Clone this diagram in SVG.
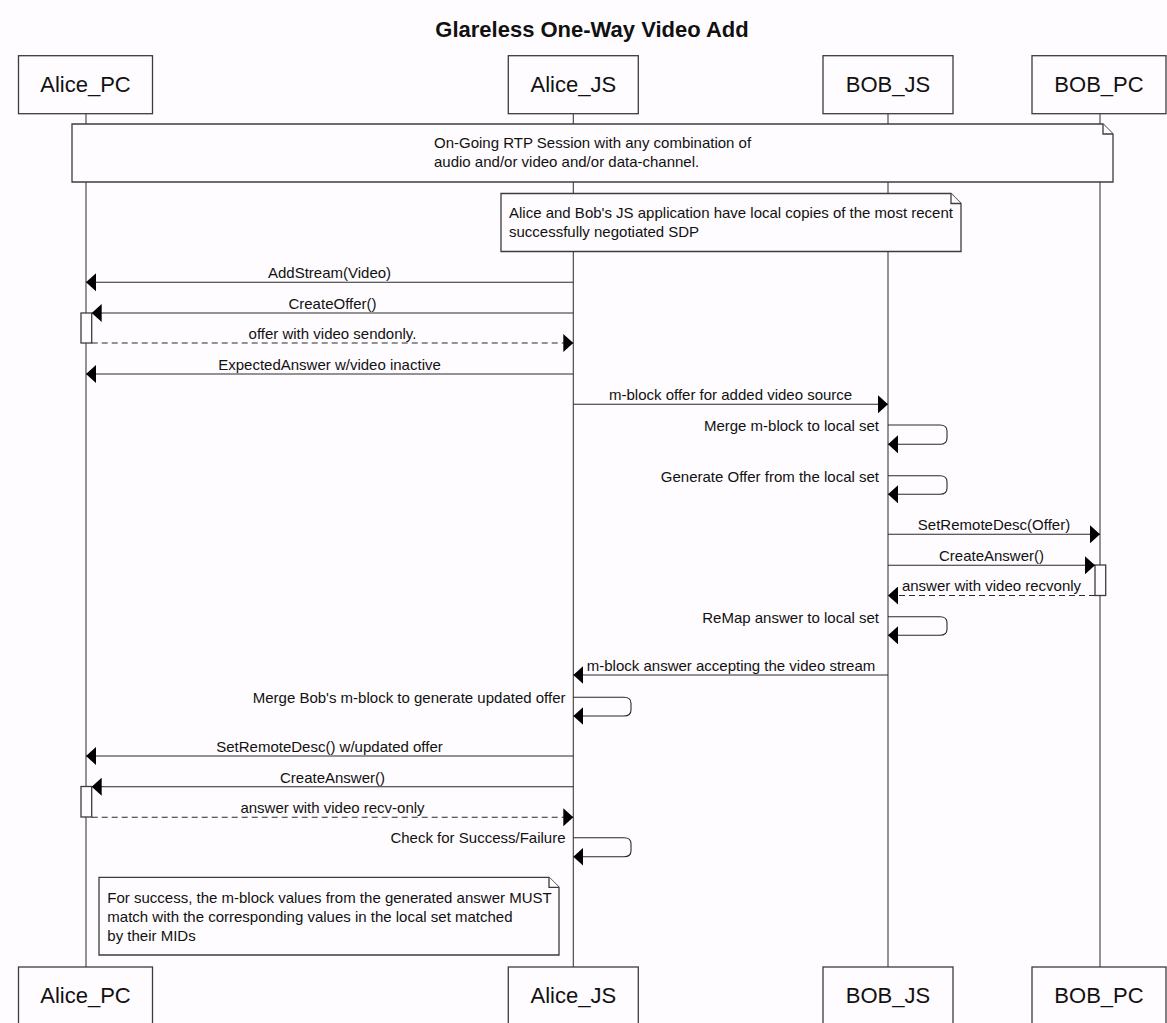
<svg xmlns="http://www.w3.org/2000/svg" width="1167" height="1023" viewBox="0 0 1167 1023">
<style>
  .bg { fill: #fefcfe; }
  .box { fill: #fefcfe; stroke: #3c3c3c; stroke-width: 1.3; }
  .life { stroke: #3c3c3c; stroke-width: 1.1; fill: none; }
  .msg { stroke: #2a2a2a; stroke-width: 1.1; fill: none; marker-end: url(#ah); }
  .dash { stroke-dasharray: 6 4; }
  .plabel { font-family: "Liberation Sans", Arial, sans-serif; font-size: 22px; fill: #111; text-anchor: middle; }
  .title { font-family: "Liberation Sans", Arial, sans-serif; font-size: 22px; font-weight: bold; fill: #111; text-anchor: middle; }
  .t { font-family: "Liberation Sans", Arial, sans-serif; font-size: 15px; fill: #111; }
  .c { text-anchor: middle; }
  .e { text-anchor: end; }
</style>
<defs>
  <marker id="ah" viewBox="0 0 10 18" refX="10" refY="9" markerWidth="10" markerHeight="18" markerUnits="userSpaceOnUse" orient="auto">
    <path d="M0,0 L10,9 L0,18 Z" fill="#000"/>
  </marker>
</defs>
<rect class="bg" x="0" y="0" width="1167" height="1023"/>
<text class="title" x="592" y="37">Glareless One-Way Video Add</text>

<g id="lifelines">
  <line class="life" x1="86" y1="114" x2="86" y2="967"/>
  <line class="life" x1="573.3" y1="114" x2="573.3" y2="967"/>
  <line class="life" x1="888" y1="114" x2="888" y2="967"/>
  <line class="life" x1="1100" y1="114" x2="1100" y2="967"/>
</g>

<g id="Alice_PC">
  <rect class="box" x="18.5" y="55.7" width="134" height="58"/>
  <text class="plabel" x="85.5" y="92">Alice_PC</text>
  <rect class="box" x="18.5" y="967" width="134" height="58"/>
  <text class="plabel" x="85.5" y="1003.3">Alice_PC</text>
</g>
<g id="Alice_JS">
  <rect class="box" x="508.3" y="55.7" width="130" height="58"/>
  <text class="plabel" x="573.3" y="92">Alice_JS</text>
  <rect class="box" x="508.3" y="967" width="130" height="58"/>
  <text class="plabel" x="573.3" y="1003.3">Alice_JS</text>
</g>
<g id="BOB_JS">
  <rect class="box" x="823" y="55.7" width="130" height="58"/>
  <text class="plabel" x="888" y="92">BOB_JS</text>
  <rect class="box" x="823" y="967" width="130" height="58"/>
  <text class="plabel" x="888" y="1003.3">BOB_JS</text>
</g>
<g id="BOB_PC">
  <rect class="box" x="1032" y="55.7" width="134" height="58"/>
  <text class="plabel" x="1099" y="92">BOB_PC</text>
  <rect class="box" x="1032" y="967" width="134" height="58"/>
  <text class="plabel" x="1099" y="1003.3">BOB_PC</text>
</g>

<g id="note1">
  <path class="box" d="M72,124 H1103 L1113,134 V182 H72 Z"/>
  <path class="box" d="M1103,124 V134 H1113" fill="none"/>
  <text class="t" x="434" y="148.3">On-Going RTP Session with any combination of</text>
  <text class="t" x="434" y="167.3">audio and/or video and/or data-channel.</text>
</g>
<g id="note2">
  <path class="box" d="M501,193.5 H951 L961,203.5 V251.5 H501 Z"/>
  <path class="box" d="M951,193.5 V203.5 H961" fill="none"/>
  <text class="t" x="509" y="217.8">Alice and Bob's JS application have local copies of the most recent</text>
  <text class="t" x="509" y="236.8">successfully negotiated SDP</text>
</g>

<g id="activations">
  <rect class="box" x="81" y="313" width="10.7" height="30"/>
  <rect class="box" x="1095" y="565" width="10.7" height="30.5"/>
  <rect class="box" x="81" y="786.5" width="10.7" height="30.5"/>
</g>

<g id="connectors">
  <line class="msg" x1="573.3" y1="282.3" x2="86" y2="282.3"/>
  <text class="t c" x="329.5" y="278">AddStream(Video)</text>

  <line class="msg" x1="573.3" y1="313" x2="91.7" y2="313"/>
  <text class="t c" x="332.5" y="308.8">CreateOffer()</text>

  <line class="msg dash" x1="91.7" y1="343" x2="573.3" y2="343"/>
  <text class="t c" x="332.5" y="338.8">offer with video sendonly.</text>

  <line class="msg" x1="573.3" y1="374" x2="86" y2="374"/>
  <text class="t c" x="329.5" y="369.8">ExpectedAnswer w/video inactive</text>

  <line class="msg" x1="573.3" y1="404.3" x2="888" y2="404.3"/>
  <text class="t c" x="730.6" y="400">m-block offer for added video source</text>

  <path class="msg" d="M888,425 H940 Q947,425 947,431 V438 Q947,444.3 940,444.3 H888"/>
  <text class="t e" x="879" y="431">Merge m-block to local set</text>

  <path class="msg" d="M888,475.7 H940 Q947,475.7 947,481.7 V488.3 Q947,494.3 940,494.3 H888"/>
  <text class="t e" x="879" y="481.5">Generate Offer from the local set</text>

  <line class="msg" x1="888" y1="534.3" x2="1100" y2="534.3"/>
  <text class="t c" x="994" y="530">SetRemoteDesc(Offer)</text>

  <line class="msg" x1="888" y1="565.3" x2="1095" y2="565.3"/>
  <text class="t c" x="991.5" y="561">CreateAnswer()</text>

  <line class="msg dash" x1="1095" y1="595.5" x2="888" y2="595.5"/>
  <text class="t c" x="991.5" y="591.3">answer with video recvonly</text>

  <path class="msg" d="M888,616.7 H940 Q947,616.7 947,622.7 V629.3 Q947,635.3 940,635.3 H888"/>
  <text class="t e" x="879" y="622.5">ReMap answer to local set</text>

  <line class="msg" x1="888" y1="675" x2="573.3" y2="675"/>
  <text class="t c" x="731" y="670.7">m-block answer accepting the video stream</text>

  <path class="msg" d="M573.3,697.3 H624 Q631,697.3 631,703.3 V710 Q631,716 624,716 H573.3"/>
  <text class="t e" x="565.5" y="703.3">Merge Bob's m-block to generate updated offer</text>

  <line class="msg" x1="573.3" y1="756" x2="86" y2="756"/>
  <text class="t c" x="329.5" y="751.7">SetRemoteDesc() w/updated offer</text>

  <line class="msg" x1="573.3" y1="786.7" x2="91.7" y2="786.7"/>
  <text class="t c" x="332.5" y="782.5">CreateAnswer()</text>

  <line class="msg dash" x1="91.7" y1="817.3" x2="573.3" y2="817.3"/>
  <text class="t c" x="332.5" y="813">answer with video recv-only</text>

  <path class="msg" d="M573.3,837.7 H624 Q631,837.7 631,843.7 V850.7 Q631,856.7 624,856.7 H573.3"/>
  <text class="t e" x="565.5" y="843.3">Check for Success/Failure</text>
</g>

<g id="note3">
  <path class="box" d="M99,877.3 H549 L559,887.3 V955 H99 Z"/>
  <path class="box" d="M549,877.3 V887.3 H559" fill="none"/>
  <text class="t" x="107.3" y="902.5">For success, the m-block values from the generated answer MUST</text>
  <text class="t" x="107.3" y="922">match with the corresponding values in the local set matched</text>
  <text class="t" x="107.3" y="941">by their MIDs</text>
</g>
</svg>
